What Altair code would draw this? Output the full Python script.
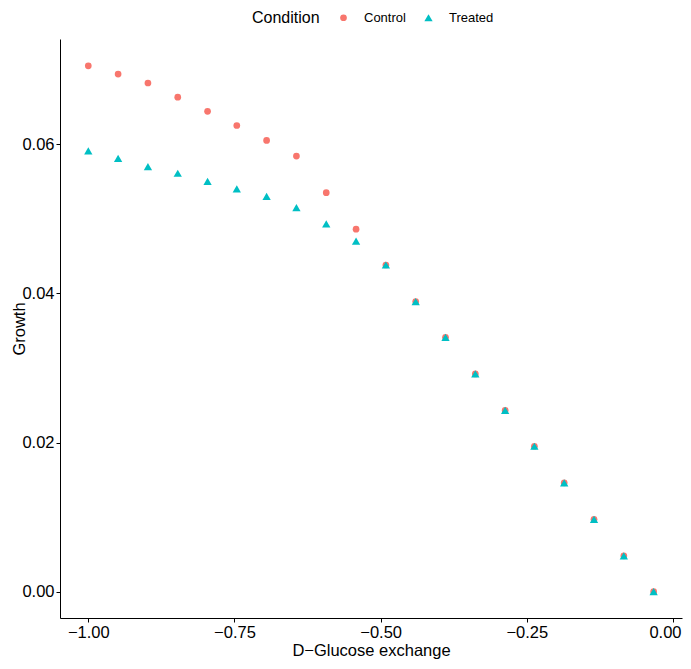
import altair as alt
import pandas as pd

# Data
glucose = [-1.000, -0.949, -0.898, -0.847, -0.796, -0.746, -0.695, -0.644, -0.593, -0.542,
           -0.491, -0.440, -0.389, -0.338, -0.287, -0.237, -0.186, -0.135, -0.084, -0.033]
growth_control = [0.0705, 0.0694, 0.0682, 0.0663, 0.0644, 0.0625, 0.0605, 0.0584, 0.0535, 0.0486,
                  0.0438, 0.0389, 0.0341, 0.0292, 0.0243, 0.0195, 0.0146, 0.0097, 0.0048, 0.0000]
growth_treated = [0.0591, 0.0581, 0.0570, 0.0561, 0.0550, 0.0540, 0.0530, 0.0515, 0.0493, 0.0470,
                  0.0438, 0.0389, 0.0341, 0.0292, 0.0243, 0.0195, 0.0146, 0.0097, 0.0048, 0.0000]
conditions = ["Control", "Treated"]
colors = ["#F8766D", "#00BFC4"]
shapes = ["circle", "triangle-up"]
x_ticks = [-1.0, -0.75, -0.5, -0.25, 0.0]
y_ticks = [0.0, 0.02, 0.04, 0.06]

rows = []
for cond, ys in zip(conditions, [growth_control, growth_treated]):
    for xv, yv in zip(glucose, ys):
        rows.append({"glucose": xv, "growth": yv, "Condition": cond})
df = pd.DataFrame(rows)

FONT = "Liberation Sans"

chart = alt.Chart(df).mark_point(filled=True, opacity=1, strokeWidth=0).encode(
    x=alt.X("glucose:Q",
            scale=alt.Scale(domain=[-1.0484, 0.0155], nice=False, zero=False),
            axis=alt.Axis(title="D\u2212Glucose exchange", values=x_ticks, format=".2f",
                          titlePadding=2,
                          labelOffset=alt.ExprRef("datum.value == 0 ? -8 : 0"))),
    y=alt.Y("growth:Q",
            scale=alt.Scale(domain=[-0.00353, 0.0741], nice=False, zero=False),
            axis=alt.Axis(title="Growth", values=y_ticks, format=".2f",
                          titleX=-49, titleBaseline="top", titleAngle=270)),
    color=alt.Color("Condition:N", scale=alt.Scale(domain=conditions, range=colors),
                    legend=alt.Legend(orient="none", legendX=192, legendY=-28,
                                      direction="horizontal", titleOrient="left")),
    shape=alt.Shape("Condition:N", scale=alt.Scale(domain=conditions, range=shapes)),
    size=alt.Size("Condition:N", scale=alt.Scale(domain=conditions, range=[45, 69]), legend=None),
).properties(
    width=622, height=579,
    autosize=alt.AutoSizeParams(type="none"),
    padding={"left": 52, "top": 31, "right": 1, "bottom": 43},
).configure_view(
    stroke=None
).configure_axis(
    grid=False,
    domainColor="black", domainWidth=1,
    tickColor="black", tickWidth=1, tickSize=4,
    labelFont=FONT, labelFontSize=16.5, labelColor="black", labelPadding=2,
    titleFont=FONT, titleFontSize=16.5, titleColor="black", titleFontWeight="normal",
).configure_legend(
    titleFont=FONT, titleFontSize=16, titleFontWeight="normal", titleColor="black",
    labelFont=FONT, labelFontSize=13, labelColor="black",
    symbolSize=50, symbolStrokeWidth=0, titlePadding=17, labelOffset=14,
    columnPadding=16, padding=0,
)

chart.save("out.html", embed_options={"renderer": "svg", "actions": False})
